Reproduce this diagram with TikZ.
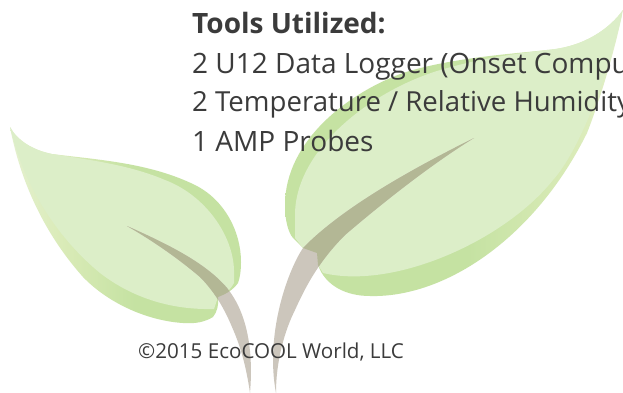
\documentclass[tikz,border=0pt]{standalone}
\usepackage{fontspec}
\setmainfont{Open Sans}
\definecolor{leafin}{HTML}{DCEEC8}
\definecolor{leafout}{HTML}{C5E2A2}
\definecolor{leafmid}{HTML}{DAEBB8}
\definecolor{leafpale}{HTML}{E9F3DA}
\definecolor{stemout}{HTML}{CCC6BC}
\definecolor{stemin}{HTML}{B3B795}
\definecolor{inktext}{HTML}{3B3B3B}
\pgfdeclarehorizontalshading{leftleafshade}{100bp}{color(0bp)=(leafpale); color(20bp)=(leafpale); color(36bp)=(leafmid); color(52bp)=(leafout); color(100bp)=(leafout)}
\pgfdeclarehorizontalshading{rightleafshade}{100bp}{color(0bp)=(leafout); color(52bp)=(leafout); color(68bp)=(leafmid); color(80bp)=(leafpale); color(100bp)=(leafpale)}
\newcommand{\leftouter}{(10,127) .. controls (17,140) and (32,150) .. (52,154) .. controls (100,160) and (150,163) .. (195,185) .. controls (225,200) and (241,232) .. (241,262) .. controls (241,270) and (240,278) .. (238,283) .. controls (233,290) and (226,294) .. (218,297) .. controls (219,305) and (217,312) .. (213,317) .. controls (205,322) and (195,324) .. (183,323) .. controls (150,321) and (110,305) .. (83,277) .. controls (50,240) and (22,190) .. (10,127) -- cycle}
\newcommand{\leftinner}{(10,127) .. controls (17,140) and (32,150) .. (52,154) .. controls (90,160) and (130,165) .. (165,180) .. controls (205,195) and (233,235) .. (234,270) -- (234,283) .. controls (230,290) and (226,294) .. (218,297) -- (214,309) .. controls (175,310) and (135,300) .. (100,273) .. controls (60,240) and (25,190) .. (10,127) -- cycle}
\newcommand{\rightouter}{(623,10) .. controls (610,28) and (585,47) .. (547,50) .. controls (510,54) and (450,58) .. (403,73) .. controls (350,92) and (285,140) .. (285,205) .. controls (285,220) and (288,232) .. (293,238) -- (303,248) -- (317,253) -- (318,265) .. controls (325,285) and (345,296) .. (370,296) .. controls (445,298) and (535,238) .. (587,133) .. controls (600,100) and (615,50) .. (623,10) -- cycle}
\newcommand{\rightinner}{(623,10) .. controls (610,28) and (585,47) .. (547,50) .. controls (515,54) and (480,58) .. (437,71) .. controls (370,92) and (295,150) .. (295,215) -- (295,238) -- (303,248) -- (317,253) -- (318,265) -- (323,273) .. controls (395,290) and (505,240) .. (553,180) .. controls (580,150) and (610,70) .. (623,10) -- cycle}
\newcommand{\leftstem}{(127,226) .. controls (165,243) and (205,262) .. (227,288) .. controls (245,310) and (254,345) .. (250,393) .. controls (246,365) and (240,345) .. (232,327) .. controls (225,310) and (215,292) .. (200,277) .. controls (180,260) and (155,242) .. (127,226) -- cycle}
\newcommand{\rightstem}{(474,138) .. controls (420,165) and (345,205) .. (303,248) .. controls (287,272) and (265,335) .. (276,393) .. controls (276,360) and (285,330) .. (295,310) .. controls (305,288) and (318,262) .. (345,235) .. controls (380,205) and (430,165) .. (474,138) -- cycle}
\tikzset{
  stemfill/.style={fill=stemout,draw=none},
  stemover/.style={fill=stemin,draw=none},
  innerfill/.style={fill=leafin,draw=none},
  toolstext/.style={anchor=base west,inner sep=0pt,text=inktext,font=\fontsize{28}{30}\selectfont},
  copytext/.style={anchor=base west,inner sep=0pt,text=inktext,font=\fontsize{20.6}{22}\selectfont}
}
\begin{document}
\begin{tikzpicture}[x=1pt,y=-1pt]
\useasboundingbox (0,0) rectangle (623,393);
\clip (0,0) rectangle (623,393);
\fill[white] (0,0) rectangle (623,393);
\shade[shading=leftleafshade] \leftouter;
\fill[innerfill] \leftinner;
\shade[shading=rightleafshade] \rightouter;
\fill[innerfill] \rightinner;
\fill[stemfill] \leftstem;
\fill[stemfill] \rightstem;
\begin{scope}
\clip \leftouter;
\fill[stemover] \leftstem;
\end{scope}
\begin{scope}
\clip \rightouter;
\fill[stemover] \rightstem;
\end{scope}
\node[toolstext,font=\fontsize{28}{30}\selectfont\bfseries] (title) at (192,34) {Tools Utilized:};
\node[toolstext] (lineA) at (192,74) {2 U12 Data Logger (Onset Compu};
\node[toolstext,font=\fontsize{27.6}{30}\selectfont] (lineB) at (192,112) {2 Temperature / Relative Humidity};
\node[toolstext] (lineC) at (192,151) {1 AMP Probes};
\node[copytext] (copyr) at (138,358) {©2015 EcoCOOL World, LLC};
\end{tikzpicture}
\end{document}
